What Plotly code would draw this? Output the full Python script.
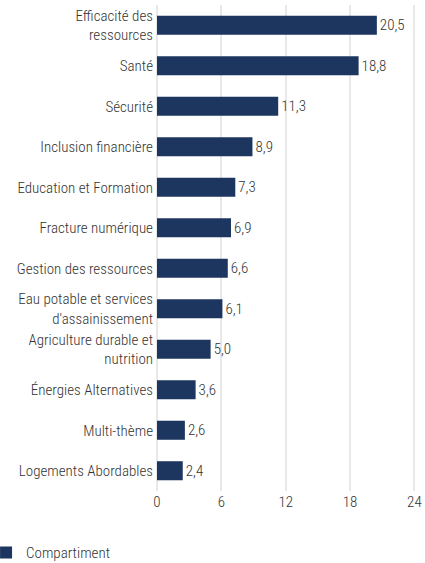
import plotly.graph_objects as go

categories = [
    "Efficacité des<br>ressources",
    "Santé",
    "Sécurité",
    "Inclusion financière",
    "Education et Formation",
    "Fracture numérique",
    "Gestion des ressources",
    "Eau potable et services<br>d'assainissement",
    "Agriculture durable et<br>nutrition",
    "Énergies Alternatives",
    "Multi-thème",
    "Logements Abordables",
]
values = [20.5, 18.8, 11.3, 8.9, 7.3, 6.9, 6.6, 6.1, 5.0, 3.6, 2.6, 2.4]
series_name = "Compartiment"
x_ticks = [0, 6, 12, 18, 24]

FONT = "Roboto Condensed, Roboto, sans-serif"
TXT = "#333333"
BAR = "#1d365f"
FS = 15

fig = go.Figure(
    go.Bar(
        x=values,
        y=categories,
        orientation="h",
        name=series_name,
        marker=dict(color=BAR, line=dict(width=0)),
        width=0.47,
        text=values,
        texttemplate="%{x:.1f}",
        textposition="outside",
        textfont=dict(family=FONT, size=FS, color=TXT, weight=300),
        cliponaxis=False,
        showlegend=True,
    )
)

fig.update_layout(
    width=425,
    height=563,
    margin=dict(l=157, r=9, t=5, b=72, autoexpand=False),
    paper_bgcolor="white",
    plot_bgcolor="white",
    separators=", ",
    font=dict(family=FONT, size=FS, color=TXT, weight=300),
    showlegend=True,
    legend=dict(
        orientation="h",
        x=-0.66,
        xanchor="left",
        yref="container",
        y=0.018,
        yanchor="middle",
        font=dict(family=FONT, size=FS, color=TXT, weight=300),
        bgcolor="rgba(0,0,0,0)",
    ),
    xaxis=dict(
        range=[0, 24.15],
        tickvals=x_ticks,
        showgrid=True,
        gridcolor="#e8e8e8",
        gridwidth=2,
        zeroline=True,
        zerolinecolor="#e8e8e8",
        zerolinewidth=2,
        showline=False,
        ticks="",
        automargin=False,
        tickfont=dict(family=FONT, size=FS, color=TXT, weight=300),
    ),
    yaxis=dict(
        autorange="reversed",
        showgrid=False,
        showline=False,
        ticks="",
        automargin=False,
        ticklabelstandoff=3,
        tickfont=dict(family=FONT, size=FS, color=TXT, weight=300),
    ),
)

fig.write_html(
    "out.html",
    config={"displayModeBar": False},
    post_script="document.body.style.margin='0';document.body.style.padding='0';",
)
